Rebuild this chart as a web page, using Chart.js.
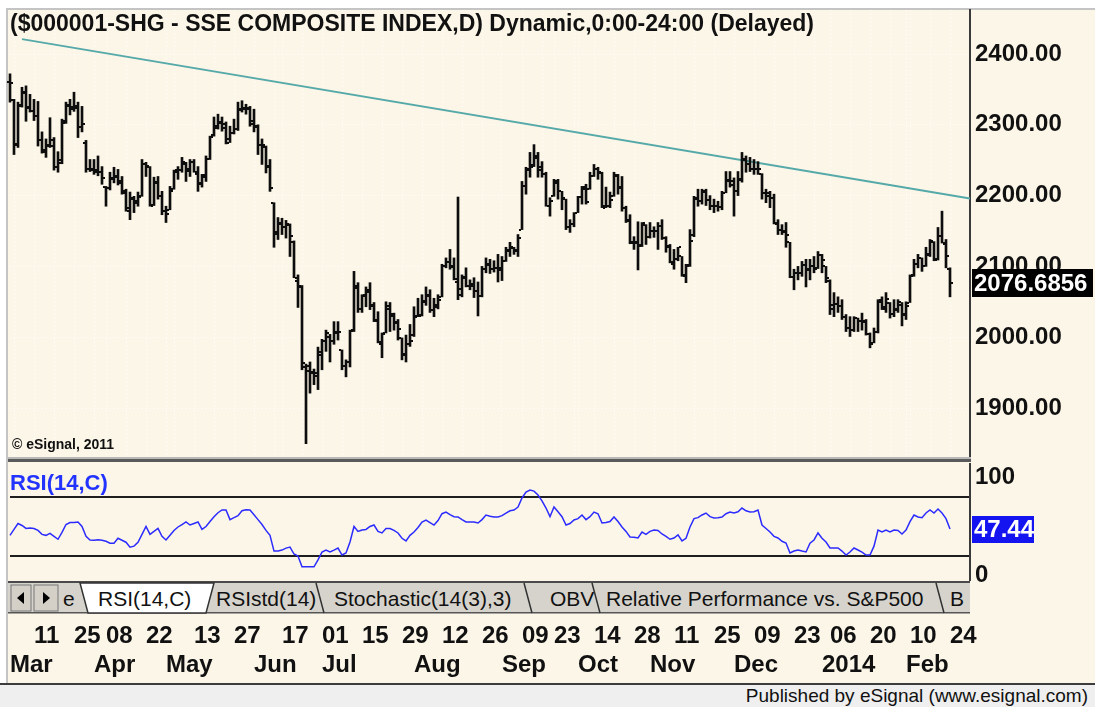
<!DOCTYPE html>
<html>
<head>
<meta charset="utf-8">
<title>SSE Composite Index</title>
<script src="https://cdn.jsdelivr.net/npm/chart.js@4.4.1/dist/chart.umd.min.js"></script>
<style>
  html, body { margin: 0; padding: 0; }
  body { width: 1095px; height: 707px; overflow: hidden; position: relative; background: #fff;
         font-family: "Liberation Sans", Arial, sans-serif; color: #111; }
  .abs { position: absolute; }
  #frame { left: 6px; top: 8px; width: 1089px; height: 675px; background: #fcf6e8;
           border-left: 2px solid #c4c4c4; border-top: 2px solid #c4c4c4; box-sizing: border-box; }
  #priceCanvas { left: 0; top: 0; }
  #rsiCanvas { left: 0; top: 463px; }
  #split { left: 8px; top: 457px; width: 963px; height: 2px; background: #b8b8b8; border-bottom: 3px solid #5a5a5a; }
  #title { left: 10px; top: 10px; font-weight: bold; font-size: 23px; line-height: 26px; white-space: nowrap; }
  #copy { left: 12px; top: 436px; font-weight: bold; font-size: 14px; line-height: 16px; white-space: nowrap; }
  #rsiTitle { left: 10px; top: 471px; font-weight: bold; font-size: 22px; line-height: 24px; color: #2233ff; }
  #tabs { left: 0; top: 578px; }
  #footLine { left: 0; top: 683px; width: 1095px; height: 2px; background: #3c3c3c; }
  #foot { left: 0; top: 685px; width: 1095px; height: 22px; background: #efefef; }
  #foot span { position: absolute; right: 7px; top: 0; font-size: 19px; line-height: 22px; white-space: nowrap; }
</style>
</head>
<body>
<div id="frame" class="abs"></div>
<canvas id="priceCanvas" class="abs" width="1095" height="458"></canvas>
<canvas id="rsiCanvas" class="abs" width="1095" height="220"></canvas>
<div id="split" class="abs"></div>
<div id="title" class="abs">($000001-SHG - SSE COMPOSITE INDEX,D) Dynamic,0:00-24:00 (Delayed)</div>
<div id="copy" class="abs">&copy; eSignal, 2011</div>
<div id="rsiTitle" class="abs">RSI(14,C)</div>
<svg id="tabs" class="abs" width="1095" height="40" font-family="Liberation Sans, Arial, sans-serif" font-size="21">
  <rect x="8" y="3" width="962" height="2" fill="#4a4a4a"/>
  <rect x="8" y="5" width="962" height="30" fill="#d6d3cc"/>
  <rect x="8" y="34" width="962" height="1.5" fill="#555"/>
  <rect x="11" y="7" width="20" height="26" fill="#d4d0c8" stroke="#777"/>
  <polygon points="24,14 17,20 24,26" fill="#000"/>
  <rect x="34" y="7" width="24" height="26" fill="#d4d0c8" stroke="#777"/>
  <polygon points="43,14 50,20 43,26" fill="#000"/>
  <text x="63" y="28" fill="#111">e</text>
  <polygon points="80,5 214,5 206,35 88,35" fill="#fff" stroke="#333" stroke-width="1.5"/>
  <text x="98" y="28" fill="#111">RSI(14,C)</text>
  <text x="216" y="28" fill="#111">RSIstd(14)</text>
  <line x1="316" y1="5" x2="324" y2="35" stroke="#333" stroke-width="1.5"/>
  <text x="334" y="28" fill="#111">Stochastic(14(3),3)</text>
  <line x1="524" y1="5" x2="532" y2="35" stroke="#333" stroke-width="1.5"/>
  <text x="550" y="28" fill="#111">OBV</text>
  <line x1="592" y1="5" x2="600" y2="35" stroke="#333" stroke-width="1.5"/>
  <text x="606" y="28" fill="#111">Relative Performance vs. S&amp;P500</text>
  <line x1="936" y1="5" x2="944" y2="35" stroke="#333" stroke-width="1.5"/>
  <text x="950" y="28" fill="#111">B</text>
</svg>
<div id="footLine" class="abs"></div>
<div id="foot" class="abs"><span>Published by eSignal (www.esignal.com)</span></div>

<script>
// ===== Data: SSE Composite daily bars, Mar 2013 - Feb 2014 =====
const sessions = [
  ['2013-03', [1,4,5,6,7,8,11,12,13,14,15,18,19,20,21,22,25,26,27,28,29]],
  ['2013-04', [1,2,3,8,9,10,11,12,15,16,17,18,19,22,23,24,25,26]],
  ['2013-05', [2,3,6,7,8,9,10,13,14,15,16,17,20,21,22,23,24,27,28,29,30,31]],
  ['2013-06', [3,4,5,6,7,13,14,17,18,19,20,21,24,25,26,27,28]],
  ['2013-07', [1,2,3,4,5,8,9,10,11,12,15,16,17,18,19,22,23,24,25,26,29,30,31]],
  ['2013-08', [1,2,5,6,7,8,9,12,13,14,15,16,19,20,21,22,23,26,27,28,29,30]],
  ['2013-09', [2,3,4,5,6,9,10,11,12,13,16,17,18,23,24,25,26,27,30]],
  ['2013-10', [8,9,10,11,14,15,16,17,18,21,22,23,24,25,28,29,30,31]],
  ['2013-11', [1,4,5,6,7,8,11,12,13,14,15,18,19,20,21,22,25,26,27,28,29]],
  ['2013-12', [2,3,4,5,6,9,10,11,12,13,16,17,18,19,20,23,24,25,26,27,30,31]],
  ['2014-01', [2,3,6,7,8,9,10,13,14,15,16,17,20,21,22,23,24,27,28,29,30]],
  ['2014-02', [7,10,11,12,13,14,17,18,19,20,21,24]]
];
const futureSlots = 5;

const opens = [
  2360,2335,2272,2328,2345,2325,2320,2313,2278,2262,2272,2270,2240,2250,2305,2326,2325,2324,2297,2275,2237,
  2238,2236,2234,2212,2211,2224,2228,2220,2204,2178,2197,2190,2200,2244,2240,2187,2218,2200,
  2178,2180,2209,2233,2236,2245,2235,2248,2230,2218,2226,2252,2285,2296,2304,2296,2280,2289,2294,2322,2322,2323,
  2305,2297,2272,2268,2240,2190,2146,2160,2155,2158,2134,2080,2071,1958,1952,1950,1945,
  1975,1995,2000,1995,2007,1982,1960,1965,2010,2070,2040,2058,2064,2044,2024,1990,2006,2040,2030,2020,1999,1975,1990,
  2003,2030,2032,2050,2058,2038,2045,2057,2101,2106,2099,2078,2060,2084,2072,2075,2065,2058,2097,2102,2097,2098,
  2095,2108,2122,2126,2122,2152,2214,2236,2243,2253,2240,2230,2185,2200,2218,2206,2195,2155,2160,
  2176,2198,2210,2210,2228,2238,2232,2185,2186,2199,2228,2212,2182,2165,2135,2133,2130,2158,
  2142,2150,2150,2157,2140,2128,2104,2110,2114,2087,2102,2145,2195,2193,2205,2194,2185,2185,2184,2204,2222,
  2215,2207,2222,2250,2245,2238,2238,2230,2204,2200,2196,2160,2152,2150,2134,2085,2090,2090,2102,2096,2100,2098,
  2116,2100,2080,2040,2047,2044,2028,2013,2010,2027,2023,2022,2004,1992,2008,2050,2040,2048,2033,2040,2045,
  2032,2049,2088,2104,2112,2100,2117,2134,2110,2143,2132,2097
];
const highs = [
  2372,2336,2332,2353,2355,2343,2336,2333,2290,2280,2310,2282,2262,2308,2332,2336,2346,2332,2326,2278,2251,
  2251,2256,2241,2213,2233,2240,2237,2227,2209,2205,2199,2205,2251,2247,2241,2226,2227,2206,
  2185,2213,2236,2241,2254,2247,2251,2251,2241,2230,2256,2284,2311,2315,2311,2304,2298,2308,2332,2334,2329,2326,
  2322,2300,2280,2270,2251,2190,2169,2168,2165,2160,2136,2088,2073,1962,1965,1955,1986,
  1997,2010,2004,2022,2022,1982,1968,2010,2093,2077,2060,2071,2077,2049,2036,2006,2050,2049,2034,2025,1999,2003,2018,
  2043,2055,2060,2071,2067,2055,2060,2103,2112,2124,2112,2198,2088,2098,2081,2084,2078,2100,2112,2110,2108,2117,
  2114,2127,2134,2127,2145,2220,2240,2261,2272,2261,2248,2233,2197,2223,2223,2206,2195,2166,2176,
  2199,2213,2216,2233,2244,2240,2233,2212,2205,2233,2230,2227,2185,2173,2142,2163,2162,2159,
  2162,2156,2162,2166,2142,2131,2124,2127,2114,2103,2152,2199,2209,2209,2209,2200,2195,2192,2206,2234,2234,
  2225,2234,2261,2256,2254,2251,2248,2231,2209,2206,2202,2166,2159,2162,2134,2096,2100,2107,2110,2110,2114,2121,
  2117,2100,2081,2063,2057,2053,2032,2029,2029,2027,2034,2025,2006,2013,2053,2057,2063,2049,2053,2053,2049,
  2050,2088,2110,2117,2112,2127,2138,2135,2155,2178,2138,2098
];
const lows = [
  2332,2258,2268,2325,2305,2318,2306,2270,2260,2254,2268,2236,2233,2245,2302,2314,2319,2282,2290,2233,2234,
  2230,2228,2216,2185,2208,2218,2215,2202,2178,2166,2176,2185,2199,2227,2185,2186,2195,2173,
  2162,2180,2209,2223,2233,2220,2227,2233,2206,2212,2220,2251,2284,2294,2291,2273,2275,2287,2292,2318,2315,2298,
  2290,2258,2244,2232,2206,2127,2138,2145,2140,2114,2084,2042,1954,1849.65,1921,1933,1926,
  1954,1980,1965,1990,1996,1954,1944,1958,2008,2035,2035,2043,2039,2022,1992,1971,2006,2008,2010,1996,1968,1965,1987,
  2001,2029,2030,2045,2035,2029,2040,2057,2098,2096,2081,2053,2057,2071,2067,2056,2030,2057,2091,2090,2092,2078,
  2080,2107,2114,2117,2114,2152,2202,2226,2241,2226,2226,2185,2171,2199,2195,2180,2152,2148,2156,
  2176,2188,2188,2209,2227,2223,2183,2183,2183,2199,2202,2178,2162,2132,2124,2095,2128,2131,
  2140,2141,2124,2138,2120,2105,2096,2108,2086,2077,2100,2142,2185,2188,2186,2180,2176,2178,2180,2204,2212,
  2171,2200,2219,2233,2234,2230,2230,2195,2190,2183,2160,2145,2145,2127,2084,2067,2081,2086,2071,2081,2091,2097,
  2091,2077,2032,2029,2035,2025,2008,2001,2008,2008,2010,2003,1985,1992,2006,2039,2035,2027,2029,2035,2016,
  2025,2049,2086,2098,2093,2100,2114,2108,2109,2133,2098,2057
];
const closes = [
  2359.5,2273,2326,2347,2324,2319,2312,2278,2264,2270,2278,2240,2246,2303,2328,2323,2326,2297,2301,2237,2236,
  2234,2233,2225,2211,2225,2226,2218,2207,2182,2195,2193,2198,2245,2242,2185,2219,2199,2178,
  2174,2206,2236,2236,2247,2237,2247,2233,2217,2229,2252,2283,2299,2302,2301,2275,2289,2294,2321,2324,2324,2301,
  2299,2272,2271,2242,2211,2148,2162,2156,2160,2143,2084,2073,1963,1959,1951,1950,1979,
  1995,2006,1994,2006,2007,1959,1965,2009,2073,2040,2059,2066,2045,2023,1993,2004,2044,2033,2021,2011,1976,1990,1994,
  2029,2030,2051,2060,2039,2043,2052,2101,2106,2100,2082,2068,2085,2072,2073,2065,2058,2097,2104,2097,2098,2098,
  2108,2123,2128,2123,2140,2213,2237,2241,2256,2236,2231,2186,2192,2221,2207,2196,2156,2160,2175,
  2198,2212,2191,2228,2238,2233,2183,2185,2194,2229,2211,2183,2164,2133,2134,2129,2161,2142,
  2150,2150,2157,2140,2129,2106,2110,2127,2088,2100,2136,2197,2193,2207,2194,2185,2185,2184,2204,2221,2221,
  2207,2223,2252,2245,2238,2237,2238,2204,2203,2196,2161,2152,2148,2144,2085,2090,2090,2102,2095,2101,2097,2116,
  2109,2083,2046,2047,2044,2028,2013,2010,2027,2023,2023,2005,1991,2008,2052,2042,2054,2033,2038,2050,2033,
  2044,2086,2104,2112,2100,2116,2136,2109,2143,2133,2114,2076.6856
];
const rsi = [
  41,47,53,51,48,48.5,48,46,42,41,43,40,37,44,52,54,54,54.6,50,40,36.3,
  36,36.5,36,35,33,33,38,36,34,29,30,34,42,50,42,45,48,40,
  36.3,41,46,49.5,52,54.6,51.5,53,54.6,47,50,55,60,64,66.8,66.8,57,59,61,66,67,66.8,
  62,57,52,46,41,25,25,26,28,29,22,20,9,9,9,9,16,
  24,26.1,24.1,26,28.1,21,23,34.2,50,45,46.5,47,50,51.5,45,43.4,48,48,46,43.4,38,35.3,41,
  44.4,49,54.6,56.6,54,51.5,56,63,64.7,62,60,59.7,57,54.6,54.6,54.6,53.6,57,61.7,60.5,59.7,59.7,
  61,63.7,66,66.8,69.8,79,85,87.1,86,82,76,68.8,60,69.8,65,60,51.5,53,56.6,
  58,61.7,57,60,64.7,63,53.6,54,55,59.7,55,49.5,45,39.3,39,38.3,44.4,42,
  45,46.4,46,42.4,40,37,38.3,41.4,35.3,38,49.5,58,59,61.7,63.7,60,58.6,59,59.7,63,64.7,
  63.7,65,68.8,66,64.7,65,66.8,51.5,48,44.4,40,38.3,35,33.2,23.1,25,26.1,25,24.1,33,36.3,43.4,
  38,34.2,28.1,28.1,28.1,25,21,24,28.1,26.1,24,21,21,30,46.4,44.4,46.4,44.4,46.4,46,42.4,
  46.4,55,61.7,59.7,59,63.7,66.8,63.7,67.8,63.7,58,47.44
];

const priceTicks = [1900, 2000, 2100, 2200, 2300, 2400];
const rsiTicks = [0, 100];
const rsiBands = [20, 80];
const trendIdx = [3, 240];
const trendVals = [2421, 2196];
const dayTicks = ['2013-03-11','2013-03-25','2013-04-08','2013-04-22','2013-05-13','2013-05-27',
  '2013-06-17','2013-07-01','2013-07-15','2013-07-29','2013-08-12','2013-08-26','2013-09-09',
  '2013-09-23','2013-10-14','2013-10-28','2013-11-11','2013-11-25','2013-12-09','2013-12-23',
  '2014-01-06','2014-01-20','2014-02-10','2014-02-24'];
const monthNames = ['Jan','Feb','Mar','Apr','May','Jun','Jul','Aug','Sep','Oct','Nov','Dec'];

// ===== Derived categories =====
const dates = [];
sessions.forEach(([m, days]) => days.forEach(d => dates.push(m + '-' + String(d).padStart(2, '0'))));
const labels = dates.concat(Array(futureSlots).fill(''));
const nBars = dates.length;
const pad = arr => arr.concat(Array(labels.length - arr.length).fill(null));

// first session of each week gets a faint grid line
const weekStart = labels.map((d, i) => {
  if (i === 0 || i >= nBars) return false;
  const a = new Date(dates[i - 1] + 'T00:00:00Z'), b = new Date(d + 'T00:00:00Z');
  return b.getUTCDay() <= a.getUTCDay() || (b - a) >= 7 * 864e5;
});

const trendData = labels.map(() => null);
trendIdx.forEach((ix, k) => { trendData[ix] = trendVals[k]; });

const FONT = '"Liberation Sans", Arial, sans-serif';
Chart.defaults.font.family = FONT;
Chart.defaults.color = '#111';

// ===== Plugins =====
const ohlcTicks = {
    id: 'ohlcTicks',
    afterDatasetsDraw(chart) {
        const { ctx, scales: { x, y } } = chart;
        ctx.save();
        ctx.fillStyle = '#0d0d0d';
        for (let i = 0; i < nBars; i++) {
            const px = Math.round(x.getPixelForValue(i));
            ctx.fillRect(px - 3, Math.round(y.getPixelForValue(opens[i])) - 1, 2, 2);
            ctx.fillRect(px + 1, Math.round(y.getPixelForValue(closes[i])) - 1, 2, 2);
        }
        ctx.restore();
    }
};

function valueTag(id, scaleId, value, text, bg, font, w, h) {
    return {
        id,
        afterDraw(chart) {
            const { ctx, chartArea } = chart;
            const yy = chart.scales[scaleId].getPixelForValue(value);
            ctx.save();
            ctx.fillStyle = bg;
            ctx.fillRect(chartArea.right + 2, Math.round(yy - h / 2), w, h);
            ctx.fillStyle = '#fff';
            ctx.font = font;
            ctx.textBaseline = 'middle';
            ctx.fillText(text, chartArea.right + 4, yy + 1);
            ctx.restore();
        }
    };
}

const fixAxis = (w, h) => axis => {
    if (w !== null) axis.width = w;
    if (h !== null) axis.height = h;
    axis.paddingLeft = axis.paddingRight = axis.paddingTop = axis.paddingBottom = 0;
};

// ===== Price chart =====
new Chart(document.getElementById('priceCanvas'), {
    type: 'bar',
    data: {
        labels,
        datasets: [
            {
                type: 'line',
                label: 'Trend',
                data: trendData,
                spanGaps: true,
                borderColor: '#55a9a9',
                borderWidth: 2,
                pointRadius: 0,
                clip: false,
                order: 2,
            },
            {
                label: 'High-Low',
                data: pad(lows.map((l, i) => [l, highs[i]])),
                backgroundColor: '#0d0d0d',
                barThickness: 2,
                borderWidth: 0,
                clip: false,
                order: 1,
            }
        ]
    },
    options: {
        responsive: false,
        animation: false,
        devicePixelRatio: 1,
        layout: { padding: { left: 10, top: 10, right: 0, bottom: 0 } },
        plugins: { legend: { display: false }, tooltip: { enabled: false } },
        scales: {
            x: {
                type: 'category',
                offset: false,
                ticks: { display: false, autoSkip: false, maxRotation: 0 },
                grid: {
                    offset: false,
                    drawTicks: false,
                    color: c => weekStart[c.index] ? 'rgba(255,255,255,0.95)' : 'rgba(0,0,0,0)',
                },
                border: { display: false, dash: [1, 3] },
                afterFit: fixAxis(null, 0),
            },
            y: {
                position: 'right',
                min: 1829.38,
                max: 2462.15,
                afterBuildTicks: axis => { axis.ticks = priceTicks.map(v => ({ value: v })); },
                ticks: {
                    padding: 5,
                    color: '#111',
                    font: { size: 24, weight: 'bold' },
                    callback: v => Number(v).toFixed(2),
                },
                grid: { drawTicks: false, color: 'rgba(255,255,255,0.95)' },
                border: { display: true, color: '#3a3a3a', width: 2, dash: [1, 3] },
                afterFit: fixAxis(125, null),
            }
        }
    },
    plugins: [ohlcTicks, valueTag('lastPrice', 'y', closes[nBars - 1], closes[nBars - 1].toFixed(4),
        '#000', 'bold 24px ' + FONT, 121, 28)]
});

// ===== RSI chart (also carries the date axis) =====
new Chart(document.getElementById('rsiCanvas'), {
    type: 'line',
    data: {
        labels,
        datasets: [{
            label: 'RSI(14,C)',
            data: pad(rsi),
            borderColor: '#2b2bff',
            borderWidth: 1.5,
            pointRadius: 0,
            tension: 0,
            clip: false,
        }]
    },
    options: {
        responsive: false,
        animation: false,
        devicePixelRatio: 1,
        layout: { padding: { left: 10, top: 0, right: 0, bottom: 0 } },
        plugins: { legend: { display: false }, tooltip: { enabled: false } },
        scales: {
            x: {
                type: 'category',
                offset: false,
                ticks: {
                    autoSkip: false,
                    maxRotation: 0,
                    minRotation: 0,
                    align: 'start',
                    padding: 0,
                    color: '#111',
                    font: { size: 24, weight: 'bold', lineHeight: '29px' },
                    callback: (v, i) => {
                        if (i >= nBars) return '';
                        const d = dates[i];
                        const day = dayTicks.includes(d) ? d.slice(8) : '';
                        let mon = '';
                        if (i === 0 || d.slice(0, 7) !== dates[i - 1].slice(0, 7)) {
                            mon = d.slice(5, 7) === '01' ? d.slice(0, 4) : monthNames[+d.slice(5, 7) - 1];
                        }
                        return (day || mon) ? [day, mon] : '';
                    }
                },
                grid: { offset: false, drawTicks: true, tickLength: 41.5, color: 'rgba(0,0,0,0)', tickColor: 'rgba(0,0,0,0)' },
                border: { display: false },
                afterFit: fixAxis(null, 103),
            },
            y: {
                position: 'right',
                min: -4.43,
                max: 114.59,
                afterBuildTicks: axis => {
                    axis.ticks = rsiTicks.concat(rsiBands).sort((a, b) => a - b).map(v => ({ value: v }));
                },
                ticks: {
                    padding: 5,
                    color: '#111',
                    font: { size: 24, weight: 'bold' },
                    callback: v => rsiTicks.includes(v) ? String(v) : '',
                },
                grid: {
                    drawTicks: false,
                    lineWidth: 2,
                    color: c => (c.tick && rsiBands.includes(c.tick.value)) ? '#1e1e1e' : 'rgba(0,0,0,0)',
                },
                border: { display: true, color: '#3a3a3a', width: 2 },
                afterFit: fixAxis(125, null),
            }
        }
    },
    plugins: [valueTag('lastRsi', 'y', rsi[nBars - 1], rsi[nBars - 1].toFixed(2),
        '#1414f0', 'bold 24px ' + FONT, 62, 27)]
});
</script>
</body>
</html>
